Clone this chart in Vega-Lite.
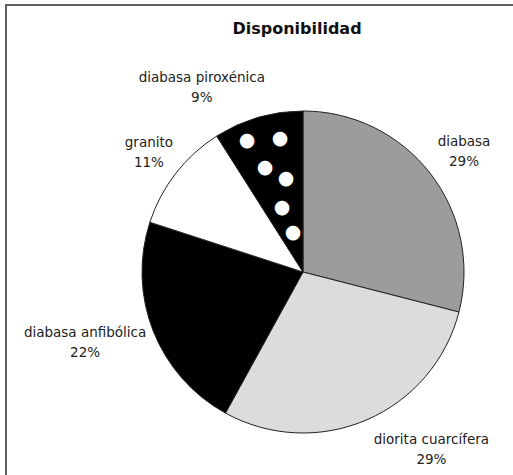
{
  "$schema": "https://vega.github.io/schema/vega-lite/v6.json",
  "autosize": {"type": "none"},
  "width": 594,
  "height": 534,
  "padding": {"left": 6, "top": 5, "right": -87, "bottom": -64},
  "background": "white",
  "view": {"stroke": "#606060", "strokeWidth": 2},
  "title": {
    "text": "Disponibilidad",
    "font": "DejaVu Sans",
    "fontSize": 16,
    "fontWeight": "bold",
    "color": "#111111",
    "anchor": "middle",
    "dx": -6,
    "offset": -32
  },
  "config": {
    "view": {"stroke": "#606060", "strokeWidth": 2},
    "text": {"font": "DejaVu Sans"}
  },
  "data": {
    "values": [
      {"tipo": "diabasa", "pct": 29, "orden": 1},
      {"tipo": "diorita cuarcífera", "pct": 29, "orden": 2},
      {"tipo": "diabasa anfibólica", "pct": 22, "orden": 3},
      {"tipo": "granito", "pct": 11, "orden": 4},
      {"tipo": "diabasa piroxénica", "pct": 9, "orden": 5}
    ]
  },
  "transform": [
    {"calculate": "[datum.tipo, datum.pct + '%']", "as": "label"}
  ],
  "encoding": {
    "theta": {"field": "pct", "type": "quantitative", "stack": true},
    "order": {"field": "orden", "type": "quantitative"}
  },
  "layer": [
    {
      "mark": {"type": "arc", "radius": 161, "stroke": "#222222", "strokeWidth": 1},
      "encoding": {
        "color": {
          "field": "tipo",
          "type": "nominal",
          "scale": {
            "domain": ["diabasa", "diorita cuarcífera", "diabasa anfibólica", "granito", "diabasa piroxénica"],
            "range": ["#9c9c9c", "#dcdcdc", "#000000", "#ffffff", "#000000"]
          },
          "legend": null
        }
      }
    },
    {
      "mark": {"type": "text", "radius": 100, "dx": -28, "dy": -36, "align": "center", "baseline": "middle", "fontSize": 19, "fill": "white"},
      "encoding": {"text": {"condition": {"test": "datum.orden == 5", "value": "●"}, "value": ""}}
    },
    {
      "mark": {"type": "text", "radius": 100, "dx": 5, "dy": -38, "align": "center", "baseline": "middle", "fontSize": 19, "fill": "white"},
      "encoding": {"text": {"condition": {"test": "datum.orden == 5", "value": "●"}, "value": ""}}
    },
    {
      "mark": {"type": "text", "radius": 100, "dx": -10, "dy": -9, "align": "center", "baseline": "middle", "fontSize": 19, "fill": "white"},
      "encoding": {"text": {"condition": {"test": "datum.orden == 5", "value": "●"}, "value": ""}}
    },
    {
      "mark": {"type": "text", "radius": 100, "dx": 11, "dy": 2, "align": "center", "baseline": "middle", "fontSize": 19, "fill": "white"},
      "encoding": {"text": {"condition": {"test": "datum.orden == 5", "value": "●"}, "value": ""}}
    },
    {
      "mark": {"type": "text", "radius": 100, "dx": 7, "dy": 31, "align": "center", "baseline": "middle", "fontSize": 19, "fill": "white"},
      "encoding": {"text": {"condition": {"test": "datum.orden == 5", "value": "●"}, "value": ""}}
    },
    {
      "mark": {"type": "text", "radius": 100, "dx": 18, "dy": 56, "align": "center", "baseline": "middle", "fontSize": 19, "fill": "white"},
      "encoding": {"text": {"condition": {"test": "datum.orden == 5", "value": "●"}, "value": ""}}
    },
    {
      "mark": {"type": "text", "radius": 200, "dx": 3, "dy": -7, "align": "center", "baseline": "middle", "fontSize": 13.5, "lineHeight": 20, "fill": "#222222"},
      "encoding": {"text": {"condition": {"test": "datum.orden == 1", "field": "label"}, "value": ""}}
    },
    {
      "mark": {"type": "text", "radius": 215, "dx": 43, "dy": -29, "align": "center", "baseline": "middle", "fontSize": 13.5, "lineHeight": 20, "fill": "#222222"},
      "encoding": {"text": {"condition": {"test": "datum.orden == 2", "field": "label"}, "value": ""}}
    },
    {
      "mark": {"type": "text", "radius": 229, "dx": -5, "dy": -23, "align": "center", "baseline": "middle", "fontSize": 13.5, "lineHeight": 20, "fill": "#222222"},
      "encoding": {"text": {"condition": {"test": "datum.orden == 3", "field": "label"}, "value": ""}}
    },
    {
      "mark": {"type": "text", "radius": 195, "dx": 0, "dy": -9, "align": "center", "baseline": "middle", "fontSize": 13.5, "lineHeight": 20, "fill": "#222222"},
      "encoding": {"text": {"condition": {"test": "datum.orden == 4", "field": "label"}, "value": ""}}
    },
    {
      "mark": {"type": "text", "radius": 205, "dx": -44, "dy": 3, "align": "center", "baseline": "middle", "fontSize": 13.5, "lineHeight": 20, "fill": "#222222"},
      "encoding": {"text": {"condition": {"test": "datum.orden == 5", "field": "label"}, "value": ""}}
    }
  ]
}
